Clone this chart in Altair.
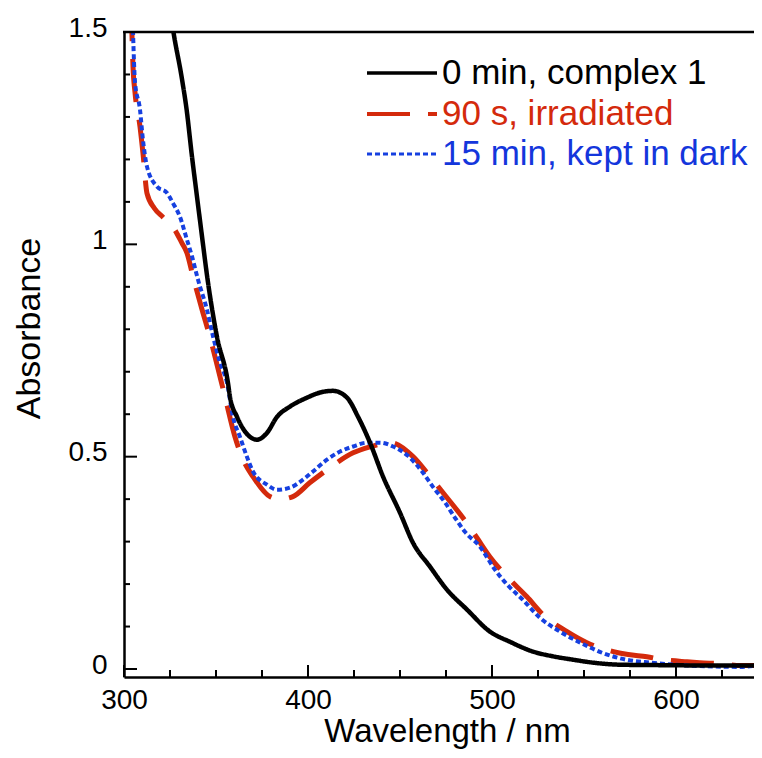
import altair as alt
import pandas as pd

# ---- data ----
black_nm = [324.5, 326.8, 331.4, 334.1, 336.8, 339.5, 341.8, 345.7, 350.5, 356.5, 357.6, 361.4,
            367.4, 372.3, 377.7, 383.2, 390.2, 399.5, 406.5, 413.6, 421.2, 427.2, 433.7, 440.8,
            450.0, 457.1, 466.3, 475.5, 486.4, 498.9, 509.8, 522.3, 533.0, 544.0, 554.9, 571.0,
            595.1, 623.9, 655.0]
black_abs = [1.57, 1.502, 1.392, 1.315, 1.212, 1.118, 1.039, 0.909, 0.783, 0.674, 0.641, 0.594,
             0.551, 0.540, 0.556, 0.594, 0.618, 0.639, 0.651, 0.655, 0.639, 0.594, 0.533, 0.453,
             0.368, 0.297, 0.241, 0.187, 0.140, 0.088, 0.064, 0.041, 0.030, 0.022, 0.015, 0.010,
             0.009, 0.008, 0.008]

red_nm = [303.8, 304.3, 304.9, 306.0, 308.7, 310.3, 312.5, 316.5, 321.2, 326.6, 331.5, 334.2,
          337.5, 342.9, 346.7, 352.2, 354.9, 360.3, 364.7, 370.1, 379.3, 385.0, 391.8, 401.1,
          411.9, 424.5, 433.7, 444.6, 457.1, 464.7, 473.4, 484.2, 491.8, 498.9, 509.8, 519.0,
          527.7, 540.8, 551.6, 558.7, 566.0, 574.0, 584.2, 592.9, 606.0, 613.0, 625.5, 635.0,
          655.0]
red_abs = [1.58, 1.499, 1.418, 1.357, 1.277, 1.215, 1.120, 1.085, 1.064, 1.041, 1.003, 0.980,
           0.924, 0.839, 0.782, 0.688, 0.641, 0.547, 0.493, 0.453, 0.406, 0.400, 0.406, 0.439,
           0.474, 0.509, 0.523, 0.533, 0.500, 0.462, 0.415, 0.356, 0.309, 0.264, 0.210, 0.170,
           0.128, 0.088, 0.062, 0.050, 0.041, 0.034, 0.029, 0.022, 0.017, 0.015, 0.012, 0.008,
           0.008]

blue_nm = [304.4, 304.9, 306.0, 308.7, 310.3, 312.5, 317.9, 323.4, 326.6, 330.4, 334.2, 337.0,
           340.2, 345.1, 348.4, 352.2, 356.0, 359.2, 363.0, 366.8, 370.1, 377.7, 383.2, 390.2,
           397.3, 402.7, 410.3, 417.4, 424.5, 432.1, 439.1, 446.2, 454.3, 462.0, 467.9, 474.5,
           479.9, 485.3, 493.5, 501.6, 508.2, 516.8, 526.0, 537.0, 548.0, 560.0, 573.0, 586.0,
           607.6, 634.8, 645.7, 655.0]
blue_abs = [1.58, 1.501, 1.381, 1.317, 1.246, 1.183, 1.136, 1.121, 1.097, 1.065, 1.011, 0.971,
            0.917, 0.846, 0.783, 0.721, 0.674, 0.594, 0.547, 0.500, 0.465, 0.434, 0.422, 0.427,
            0.446, 0.465, 0.493, 0.512, 0.524, 0.533, 0.533, 0.524, 0.502, 0.465, 0.429, 0.392,
            0.356, 0.323, 0.288, 0.234, 0.199, 0.163, 0.121, 0.088, 0.062, 0.038, 0.022, 0.015,
            0.008, 0.005, 0.008, 0.007]

legend_labels = ["0 min, complex 1", "90 s, irradiated", "15 min, kept in dark"]
line_colors = ["#000000", "#d42a0c", "#1640e0"]
text_colors = ["#000000", "#d42a0c", "#1436dc"]
line_dashes = [[1, 0], [43, 18], [5, 3]]
line_widths = [4.5, 5, 4]

y_major = [0, 0.5, 1, 1.5]
y_minor = [0.1, 0.2, 0.3, 0.4, 0.6, 0.7, 0.8, 0.9, 1.1, 1.2, 1.3, 1.4]
x_major = [300, 400, 500, 600]
x_minor = [325, 350, 375, 425, 450, 475, 525, 550, 575, 625]

# ---- layout ----
W, H = 630, 645
FONT = "Liberation Sans"
xscale = alt.Scale(domain=[300, 642.4], nice=False, zero=False)
yscale = alt.Scale(domain=[-0.0188, 1.5], nice=False, zero=False)

xaxis = alt.Axis(values=x_major, ticks=False, tickSize=0, domain=True, domainColor="black",
                 domainWidth=2.5, grid=False,
                 labelFont=FONT, labelFontSize=28, labelColor="black",
                 labelBaseline="alphabetic", labelPadding=31, labelFlush=False,
                 title="Wavelength / nm", titleFont=FONT, titleFontSize=33,
                 titleFontWeight="normal", titleColor="black", titleBaseline="alphabetic",
                 titleX=323, titleY=64)
yaxis = alt.Axis(values=y_major, format=".1~f", ticks=False, tickSize=0, domain=True,
                 domainColor="black", domainWidth=2.5,
                 grid=False, labelFont=FONT, labelFontSize=28, labelColor="black",
                 labelBaseline="middle", labelPadding=17, labelOffset=-4, labelFlush=False,
                 title="Absorbance", titleFont=FONT, titleFontSize=34,
                 titleFontWeight="normal", titleColor="black", titleBaseline="alphabetic",
                 titleX=-85, titleY=296, titleAngle=270)

series = [(black_nm, black_abs), (red_nm, red_abs), (blue_nm, blue_abs)]
curves = []
for i in [1, 2, 0]:
    nm, ab = series[i]
    df = pd.DataFrame({"nm": nm, "abs": ab})
    c = alt.Chart(df).mark_line(
        color=line_colors[i], strokeWidth=line_widths[i], strokeDash=line_dashes[i],
        strokeCap="butt", clip=True, interpolate="monotone"
    ).encode(
        x=alt.X("nm:Q", scale=xscale, axis=xaxis),
        y=alt.Y("abs:Q", scale=yscale, axis=yaxis),
    )
    curves.append(c)

# inward tick marks
ymaj = alt.Chart(pd.DataFrame({"v": y_major})).mark_rule(color="black", strokeWidth=2).encode(
    y=alt.Y("v:Q", scale=yscale), x=alt.value(0), x2=alt.value(13))
ymin = alt.Chart(pd.DataFrame({"v": y_minor})).mark_rule(color="black", strokeWidth=2).encode(
    y=alt.Y("v:Q", scale=yscale), x=alt.value(0), x2=alt.value(6))
xmaj = alt.Chart(pd.DataFrame({"v": x_major})).mark_rule(color="black", strokeWidth=2).encode(
    x=alt.X("v:Q", scale=xscale), y=alt.value(H), y2=alt.value(H - 12))
xmin = alt.Chart(pd.DataFrame({"v": x_minor})).mark_rule(color="black", strokeWidth=2).encode(
    x=alt.X("v:Q", scale=xscale), y=alt.value(H), y2=alt.value(H - 7))

# top frame line
top_line = alt.Chart(pd.DataFrame({"k": [0]})).mark_rule(color="black", strokeWidth=2.5).encode(
    x=alt.value(-1), x2=alt.value(W), y=alt.value(0))

# legend
leg_y = [41, 82, 122]
legend_layers = []
for i, lab in enumerate(legend_labels):
    ldf = pd.DataFrame({"label": [lab]})
    legend_layers.append(
        alt.Chart(ldf).mark_rule(color=line_colors[i], strokeWidth=line_widths[i] - 1,
                                 strokeDash=line_dashes[i], strokeCap="butt").encode(
            x=alt.value(243), x2=alt.value(313), y=alt.value(leg_y[i]))
    )
    legend_layers.append(
        alt.Chart(ldf).mark_text(font=FONT, fontSize=35, color=text_colors[i], align="left",
                                 baseline="middle").encode(
            text="label:N", x=alt.value(318), y=alt.value(leg_y[i]))
    )

chart = alt.layer(*curves, ymaj, ymin, xmaj, xmin, top_line, *legend_layers).properties(
    width=W, height=H,
    autosize=alt.AutoSizeParams(type="none"),
    padding={"left": 116, "top": 24, "right": 0, "bottom": 73},
    background="white",
).configure_view(strokeWidth=0)

chart.save("out.html", embed_options={"renderer": "svg", "actions": False})
